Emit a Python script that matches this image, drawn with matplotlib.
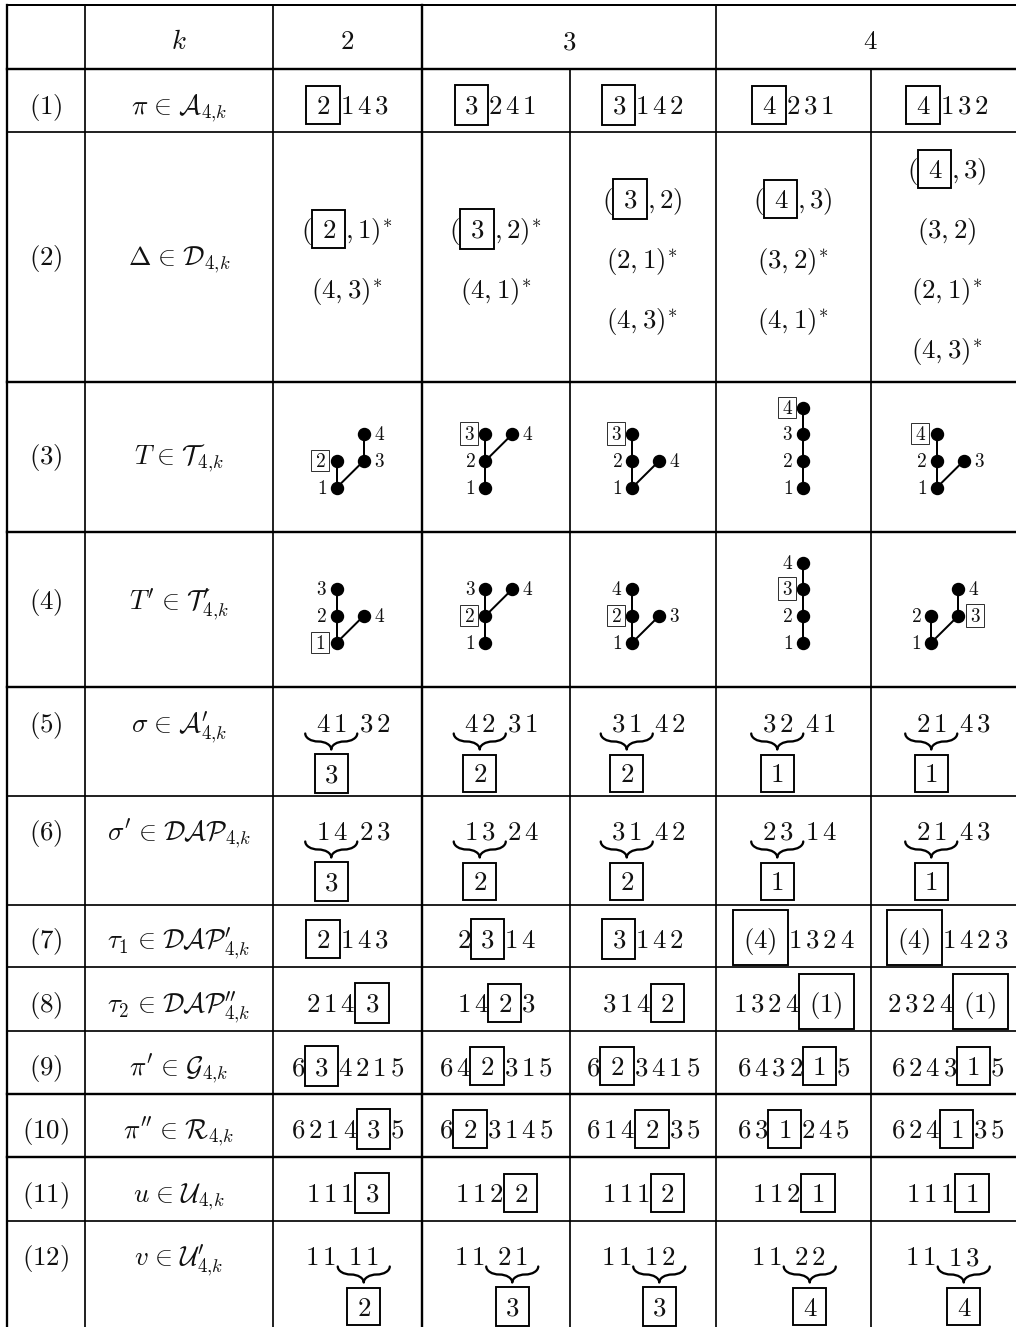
import matplotlib
matplotlib.use('Agg')
import matplotlib.pyplot as plt
from matplotlib.patches import Rectangle, PathPatch
from matplotlib.path import Path
from matplotlib.mathtext import MathTextParser
from matplotlib.font_manager import FontProperties

plt.rcParams['mathtext.fontset'] = 'cm'
plt.rcParams['font.family'] = ['DejaVu Sans']

# ---------------- data ----------------
k_values = ['2', '3', '4']
row_labels = ['(1)', '(2)', '(3)', '(4)', '(5)', '(6)', '(7)', '(8)', '(9)',
              '(10)', '(11)', '(12)']
set_labels = [r'\pi \in \mathcal{A}_{4{,}k}',
              r'\Delta \in \mathcal{D}_{4{,}k}',
              r'T \in \mathcal{T}_{4{,}k}',
              r"T^{\prime} \in \mathcal{T}^{\prime}_{4{,}k}",
              r"\sigma \in \mathcal{A}^{\prime}_{4{,}k}",
              r"\sigma^{\prime} \in \mathcal{DAP}_{4{,}k}",
              r"\tau_1 \in \mathcal{DAP}^{\prime}_{4{,}k}",
              r"\tau_2 \in \mathcal{DAP}^{\prime\prime}_{4{,}k}",
              r"\pi^{\prime} \in \mathcal{G}_{4{,}k}",
              r"\pi^{\prime\prime} \in \mathcal{R}_{4{,}k}",
              r"u \in \mathcal{U}_{4{,}k}",
              r"v \in \mathcal{U}^{\prime}_{4{,}k}"]

# [x] marks a boxed entry
row1 = ['[2]143', '[3]241', '[3]142', '[4]231', '[4]132']
row2 = [['([2],1)*', '(4,3)*'],
        ['([3],2)*', '(4,1)*'],
        ['([3],2)', '(2,1)*', '(4,3)*'],
        ['([4],3)', '(3,2)*', '(4,1)*'],
        ['([4],3)', '(3,2)', '(2,1)*', '(4,3)*']]
# trees: nodes (label, gx, gy, side, boxed), edges
row3_trees = [
    ([('1', 0, 0, 'l', 0), ('2', 0, 1, 'l', 1), ('3', 1, 1, 'r', 0), ('4', 1, 2, 'r', 0)],
     [('1', '2'), ('1', '3'), ('3', '4')]),
    ([('1', 0, 0, 'l', 0), ('2', 0, 1, 'l', 0), ('3', 0, 2, 'l', 1), ('4', 1, 2, 'r', 0)],
     [('1', '2'), ('2', '3'), ('2', '4')]),
    ([('1', 0, 0, 'l', 0), ('2', 0, 1, 'l', 0), ('3', 0, 2, 'l', 1), ('4', 1, 1, 'r', 0)],
     [('1', '2'), ('2', '3'), ('1', '4')]),
    ([('1', 0, 0, 'l', 0), ('2', 0, 1, 'l', 0), ('3', 0, 2, 'l', 0), ('4', 0, 3, 'l', 1)],
     [('1', '2'), ('2', '3'), ('3', '4')]),
    ([('1', 0, 0, 'l', 0), ('2', 0, 1, 'l', 0), ('4', 0, 2, 'l', 1), ('3', 1, 1, 'r', 0)],
     [('1', '2'), ('2', '4'), ('1', '3')]),
]
row4_trees = [
    ([('1', 0, 0, 'l', 1), ('2', 0, 1, 'l', 0), ('3', 0, 2, 'l', 0), ('4', 1, 1, 'r', 0)],
     [('1', '2'), ('2', '3'), ('1', '4')]),
    ([('1', 0, 0, 'l', 0), ('2', 0, 1, 'l', 1), ('3', 0, 2, 'l', 0), ('4', 1, 2, 'r', 0)],
     [('1', '2'), ('2', '3'), ('2', '4')]),
    ([('1', 0, 0, 'l', 0), ('2', 0, 1, 'l', 1), ('4', 0, 2, 'l', 0), ('3', 1, 1, 'r', 0)],
     [('1', '2'), ('2', '4'), ('1', '3')]),
    ([('1', 0, 0, 'l', 0), ('2', 0, 1, 'l', 0), ('3', 0, 2, 'l', 1), ('4', 0, 3, 'l', 0)],
     [('1', '2'), ('2', '3'), ('3', '4')]),
    ([('1', 0, 0, 'l', 0), ('2', 0, 1, 'l', 0), ('3', 1, 1, 'r', 1), ('4', 1, 2, 'r', 0)],
     [('1', '2'), ('1', '3'), ('3', '4')]),
]
row5_groups = [('41', '32'), ('42', '31'), ('31', '42'), ('32', '41'), ('21', '43')]
row5_marks = ['3', '2', '2', '1', '1']
row6_groups = [('14', '23'), ('13', '24'), ('31', '42'), ('23', '14'), ('21', '43')]
row6_marks = ['3', '2', '2', '1', '1']
row7 = ['[2]143', '2[3]14', '[3]142', '[(4)]1324', '[(4)]1423']
row8 = ['214[3]', '14[2]3', '314[2]', '1324[(1)]', '2324[(1)]']
row9 = ['6[3]4215', '64[2]315', '6[2]3415', '6432[1]5', '6243[1]5']
row10 = ['6214[3]5', '6[2]3145', '614[2]35', '63[1]245', '624[1]35']
row11 = ['111[3]', '112[2]', '111[2]', '112[1]', '111[1]']
row12_groups = [('11', '11'), ('11', '21'), ('11', '12'), ('11', '22'), ('11', '13')]
row12_marks = ['2', '3', '3', '4', '4']

# ---------------- layout ----------------
W, H, DPI = 1016, 1327, 100
FS = 19.4          # main font (pt)
FS_SMALL = 13.9    # tree labels (pt)
PX = 72.0 / DPI    # px -> pt

col_x = [7, 85, 273, 422, 570, 716, 871, 1024]
row_y = [5, 69, 132, 382, 532, 687, 796, 905, 967, 1031, 1094, 1157, 1221, 1345]
col_lw = [2.3, 1.7, 1.7, 2.4, 1.7, 1.7, 1.7, 1.7]
row_lw = [2.0, 2.4, 1.7, 2.4, 2.4, 2.4, 1.7, 1.7, 1.7, 1.7, 2.4, 2.4, 1.7, 1.7]
label_base = [49, 114, 265, 464, 609, 732, 840, 948, 1012, 1075, 1138, 1202, 1265]

fig = plt.figure(figsize=(W / DPI, H / DPI), dpi=DPI)
ax = fig.add_axes([0, 0, 1, 1])
ax.set_xlim(0, W)
ax.set_ylim(H, 0)
ax.axis('off')

parser = MathTextParser('path')


def txt(x, y, s, fs=FS, ha='left'):
    return ax.text(x, y, s, fontsize=fs, ha=ha, va='baseline', zorder=4,
                   color='#111111')


def measure(tex, fs):
    r = parser.parse(tex, dpi=DPI, prop=FontProperties(size=fs))
    return r.width, r.height, r.depth


def to_tex(content):
    out = ''
    prev_digit = False
    for ch in content:
        if ch.isdigit():
            if prev_digit:
                out += r'\,'
            out += ch
            prev_digit = True
        elif ch == '*':
            out += '^{*}'
            prev_digit = False
        else:
            out += ch
            prev_digit = False
    return '$' + out + '$'


def parse_seq(s):
    segs, buf, i = [], '', 0
    while i < len(s):
        if s[i] == '[':
            if buf:
                segs.append((False, buf))
                buf = ''
            j = s.index(']', i)
            segs.append((True, s[i + 1:j]))
            i = j + 1
        else:
            buf += s[i]
            i += 1
    if buf:
        segs.append((False, buf))
    return segs


def draw_box_text(x, base, tex, w, h, d, sep, fs, lw, color='black'):
    ax.add_patch(Rectangle((x, base - h - sep), w + 2 * sep, h + d + 2 * sep,
                           fill=False, lw=lw * PX, ec=color, zorder=3))
    txt(x + sep, base, tex, fs)


def draw_seq(cx, base, s, fs=FS, sep=9.6, lw=1.9):
    items, total = [], 0.0
    for boxed, c in parse_seq(s):
        tex = to_tex(c)
        w, h, d = measure(tex, fs)
        ww = w + 2 * sep if boxed else w
        items.append((boxed, tex, w, h, d, ww))
        total += ww
    x = cx - total / 2
    for boxed, tex, w, h, d, ww in items:
        if boxed:
            draw_box_text(x, base, tex, w, h, d, sep, fs, lw)
        else:
            txt(x, base, tex, fs)
        x += ww


def brace_path(x0, x1, y0, h):
    xm = (x0 + x1) / 2
    c = min(13.0, (x1 - x0) / 4)
    ym = y0 + 0.5 * h
    yt = y0 + h
    verts = [(x0, y0),
             (x0, y0 + 0.55 * (ym - y0)), (x0 + 0.45 * c, ym), (x0 + c, ym),
             (xm - c, ym),
             (xm - 0.45 * c, ym), (xm, ym + 0.45 * (yt - ym)), (xm, yt),
             (xm, ym + 0.45 * (yt - ym)), (xm + 0.45 * c, ym), (xm + c, ym),
             (x1 - c, ym),
             (x1 - 0.45 * c, ym), (x1, y0 + 0.55 * (ym - y0)), (x1, y0)]
    codes = [Path.MOVETO,
             Path.CURVE4, Path.CURVE4, Path.CURVE4,
             Path.LINETO,
             Path.CURVE4, Path.CURVE4, Path.CURVE4,
             Path.CURVE4, Path.CURVE4, Path.CURVE4,
             Path.LINETO,
             Path.CURVE4, Path.CURVE4, Path.CURVE4]
    return Path(verts, codes)


def draw_brace_cell(cx, base, groups, mark, brace_first, overhang=10.5, gap=12.0):
    ta = to_tex(groups[0])
    tb = to_tex(groups[1])
    wa = measure(ta, FS)[0]
    wb = measure(tb, FS)[0]
    xb = wa + gap
    if brace_first:
        bx0, bx1 = -overhang, wa + overhang
        left, right = bx0, xb + wb
    else:
        bx0, bx1 = xb - overhang, xb + wb + overhang
        left, right = 0, bx1
    shift = cx - (left + right) / 2
    txt(shift, base, ta)
    txt(shift + xb, base, tb)
    ax.add_patch(PathPatch(brace_path(shift + bx0, shift + bx1, base + 1.5, 16),
                           fill=False, lw=2.3 * PX, ec='black', capstyle='round',
                           joinstyle='round'))
    bc = shift + (bx0 + bx1) / 2
    draw_seq(bc, base + 50.5, '[' + mark + ']')


DX, DY = 26.8, 26.6
LW_SMALL_W = measure('$0$', FS_SMALL)[0]


def draw_tree(cx, base_y, tree):
    nodes, edges = tree
    pos = {}
    lefts, rights = [], []
    for lab, gx, gy, side, boxed in nodes:
        pos[lab] = (gx * DX, base_y - gy * DY)
        nx = gx * DX
        lefts.append(nx - 6)
        rights.append(nx + 6)
        if side == 'l':
            lefts.append(nx - (7.5 + LW_SMALL_W + 8 if boxed else 10 + LW_SMALL_W))
        else:
            rights.append(nx + (7.5 + LW_SMALL_W + 8 if boxed else 10 + LW_SMALL_W))
    shift = cx - (min(lefts) + max(rights)) / 2
    for a, b in edges:
        (xa, ya), (xb, yb) = pos[a], pos[b]
        ax.plot([xa + shift, xb + shift], [ya, yb], color='black', lw=2.0 * PX,
                solid_capstyle='round', zorder=2)
    for lab, gx, gy, side, boxed in nodes:
        nx, ny = pos[lab]
        nx += shift
        ax.plot([nx], [ny], 'o', ms=12 * PX, color='black', mec='black', zorder=3)
        tex = '$' + lab + '$'
        w, h, d = measure(tex, FS_SMALL)
        bl = ny + 6.1
        if boxed:
            sep = 4.0
            if side == 'l':
                x = nx - 7.5 - (w + 2 * sep)
            else:
                x = nx + 7.5
            draw_box_text(x, bl, tex, w, h, d, sep, FS_SMALL, 1.0, color='#333333')
        else:
            if side == 'l':
                txt(nx - 10, bl, tex, FS_SMALL, ha='right')
            else:
                txt(nx + 10, bl, tex, FS_SMALL, ha='left')


def rel_spacing(s):
    # widen the relation spacing around \in towards TeX's thick space
    return s.replace(r' \in ', r'\hspace{0.1}\in\hspace{0.1}')


# ---------------- grid ----------------
for i, x in enumerate(col_x):
    y_top = row_y[1] if i in (4, 6) else row_y[0]
    ax.plot([x, x], [y_top, row_y[-1]], color='black', lw=col_lw[i] * PX,
            solid_capstyle='projecting', zorder=1)
for j, y in enumerate(row_y):
    ax.plot([col_x[0], col_x[-1]], [y, y], color='black', lw=row_lw[j] * PX,
            solid_capstyle='projecting', zorder=1)

ccx = [(col_x[i] + col_x[i + 1]) / 2 for i in range(len(col_x) - 1)]
data_cx = ccx[2:]

# header
txt(ccx[1], label_base[0], '$k$', ha='center')
txt(ccx[2], label_base[0], '$' + k_values[0] + '$', ha='center')
txt((col_x[3] + col_x[5]) / 2, label_base[0], '$' + k_values[1] + '$', ha='center')
txt((col_x[5] + col_x[7]) / 2, label_base[0], '$' + k_values[2] + '$', ha='center')

# row labels and set labels
for r in range(12):
    b = label_base[r + 1]
    txt(ccx[0], b, '$' + row_labels[r] + '$', ha='center')
    txt(ccx[1], b, '$' + rel_spacing(set_labels[r]) + '$', ha='center')

# simple sequence rows
for rows, ri in [(row1, 1), (row7, 7), (row8, 8), (row9, 9), (row10, 10), (row11, 11)]:
    for c, s in enumerate(rows):
        draw_seq(data_cx[c], label_base[ri], s)

# row 2 (multi-line)
for c, lines in enumerate(row2):
    n = len(lines)
    for i, s in enumerate(lines):
        draw_seq(data_cx[c], 268 + 60 * (i - (n - 1) / 2), s)

# rows 3-4 trees
for c, t in enumerate(row3_trees):
    draw_tree(data_cx[c], row_y[4] - 44.5, t)
for c, t in enumerate(row4_trees):
    draw_tree(data_cx[c], row_y[5] - 44.5, t)

# rows 5, 6, 12 with braces
for c in range(5):
    draw_brace_cell(data_cx[c], label_base[5], row5_groups[c], row5_marks[c], True)
    draw_brace_cell(data_cx[c], label_base[6], row6_groups[c], row6_marks[c], True)
    draw_brace_cell(data_cx[c], label_base[12], row12_groups[c], row12_marks[c], False)

fig.savefig('out.png', dpi=DPI, facecolor='white')
